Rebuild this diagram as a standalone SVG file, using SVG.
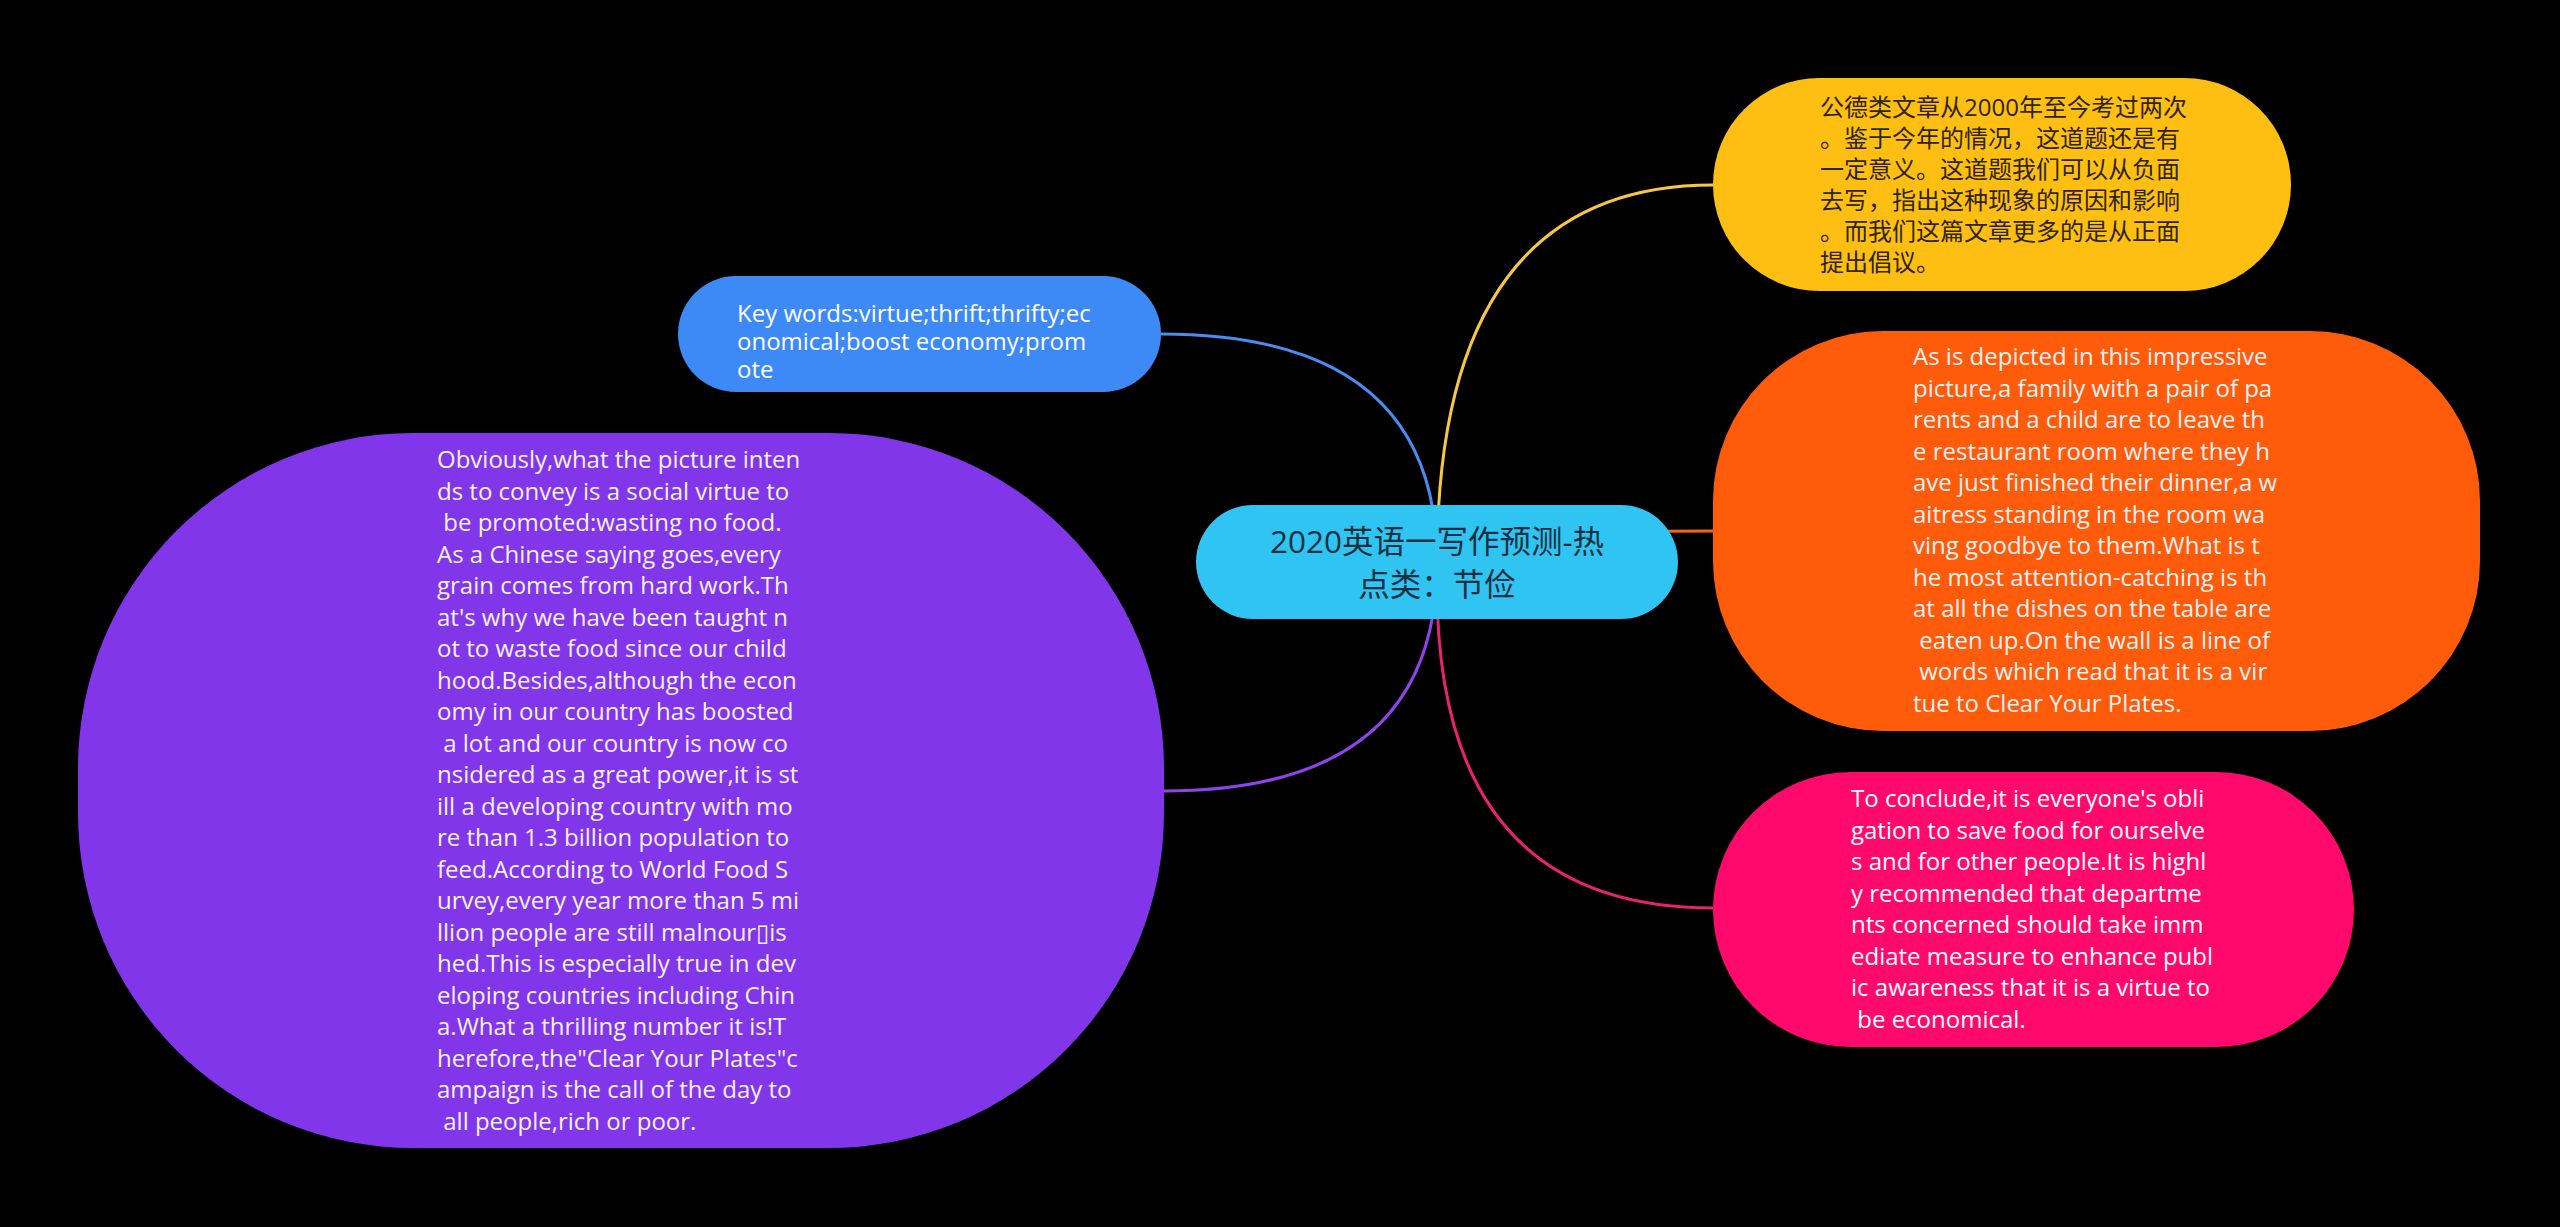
<svg xmlns="http://www.w3.org/2000/svg" width="2560" height="1227" viewBox="0 0 2560 1227">
<style>
.t{font-family:"Open Sans","Noto Sans CJK SC",sans-serif;font-size:24px;white-space:pre}
.w{fill:#F4F1F4}
.conn path{fill:none;stroke-width:3}
</style>
<rect x="0" y="0" width="2560" height="1227" fill="#000000"/>
<g id="connectors" class="conn">
<path d="M1437,562 Q1437,185 1713,185" stroke="#F6C646"/>
<path d="M1437,562 Q1437,334 1161,334" stroke="#4A8CF2"/>
<path d="M1437,562 Q1437,531 1713,531" stroke="#F0641F"/>
<path d="M1437,585 Q1437,908 1713,908" stroke="#E5236E"/>
<path d="M1437,562 Q1437,791 1164,791" stroke="#8E44E8"/>
</g>
<g id="root">
<rect x="1196" y="505" width="482" height="114" rx="57" fill="#30C4F3"/>
<text class="t" x="1437" y="553" text-anchor="middle" style="font-size:31.5px" fill="#15303F">2020英语一写作预测-热</text>
<text class="t" x="1437" y="596" text-anchor="middle" style="font-size:31.5px" fill="#15303F">点类：节俭</text>
</g>
<g id="node-gongde">
<rect x="1713" y="78" width="578" height="213" rx="106.5" fill="#FFBF12"/>
<text class="t" fill="#2E2408">
<tspan x="1820" y="116">公德类文章从2000年至今考过两次</tspan>
<tspan x="1820" y="147">。鉴于今年的情况，这道题还是有</tspan>
<tspan x="1820" y="178">一定意义。这道题我们可以从负面</tspan>
<tspan x="1820" y="209">去写，指出这种现象的原因和影响</tspan>
<tspan x="1820" y="240">。而我们这篇文章更多的是从正面</tspan>
<tspan x="1820" y="271">提出倡议。</tspan>
</text>
</g>
<g id="node-keywords">
<rect x="678" y="276" width="483" height="116" rx="58" fill="#3D8AF7"/>
<text class="t" fill="#FFFFFF">
<tspan x="737" y="322">Key words:virtue;thrift;thrifty;ec</tspan>
<tspan x="737" y="350">onomical;boost economy;prom</tspan>
<tspan x="737" y="378">ote</tspan>
</text>
</g>
<g id="node-depicted">
<rect x="1713" y="331" width="767" height="400" rx="170" fill="#FE5B0B"/>
<text class="t w">
<tspan x="1913" y="365">As is depicted in this impressive</tspan>
<tspan x="1913" y="396.5">picture,a family with a pair of pa</tspan>
<tspan x="1913" y="428">rents and a child are to leave th</tspan>
<tspan x="1913" y="459.5">e restaurant room where they h</tspan>
<tspan x="1913" y="491">ave just finished their dinner,a w</tspan>
<tspan x="1913" y="522.5">aitress standing in the room wa</tspan>
<tspan x="1913" y="554">ving goodbye to them.What is t</tspan>
<tspan x="1913" y="585.5">he most attention-catching is th</tspan>
<tspan x="1913" y="617">at all the dishes on the table are</tspan>
<tspan x="1913" y="648.5"> eaten up.On the wall is a line of</tspan>
<tspan x="1913" y="680"> words which read that it is a vir</tspan>
<tspan x="1913" y="711.5">tue to Clear Your Plates.</tspan>
</text>
</g>
<g id="node-conclude">
<rect x="1713" y="772" width="641" height="275" rx="137.5" fill="#FF0A6C"/>
<text class="t" fill="#FFFFFF">
<tspan x="1851" y="807">To conclude,it is everyone's obli</tspan>
<tspan x="1851" y="838.5">gation to save food for ourselve</tspan>
<tspan x="1851" y="870">s and for other people.It is highl</tspan>
<tspan x="1851" y="901.5">y recommended that departme</tspan>
<tspan x="1851" y="933">nts concerned should take imm</tspan>
<tspan x="1851" y="964.5">ediate measure to enhance publ</tspan>
<tspan x="1851" y="996">ic awareness that it is a virtue to</tspan>
<tspan x="1851" y="1027.5"> be economical.</tspan>
</text>
</g>
<g id="node-obviously">
<rect x="78" y="433" width="1086" height="715" rx="335" fill="#8236E9"/>
<text class="t w">
<tspan x="437" y="468">Obviously,what the picture inten</tspan>
<tspan x="437" y="499.5">ds to convey is a social virtue to</tspan>
<tspan x="437" y="531"> be promoted:wasting no food.</tspan>
<tspan x="437" y="562.5">As a Chinese saying goes,every</tspan>
<tspan x="437" y="594">grain comes from hard work.Th</tspan>
<tspan x="437" y="625.5">at's why we have been taught n</tspan>
<tspan x="437" y="657">ot to waste food since our child</tspan>
<tspan x="437" y="688.5">hood.Besides,although the econ</tspan>
<tspan x="437" y="720">omy in our country has boosted</tspan>
<tspan x="437" y="751.5"> a lot and our country is now co</tspan>
<tspan x="437" y="783">nsidered as a great power,it is st</tspan>
<tspan x="437" y="814.5">ill a developing country with mo</tspan>
<tspan x="437" y="846">re than 1.3 billion population to</tspan>
<tspan x="437" y="877.5">feed.According to World Food S</tspan>
<tspan x="437" y="909">urvey,every year more than 5 mi</tspan>
<tspan x="437" y="940.5">llion people are still malnour▯is</tspan>
<tspan x="437" y="972">hed.This is especially true in dev</tspan>
<tspan x="437" y="1003.5">eloping countries including Chin</tspan>
<tspan x="437" y="1035">a.What a thrilling number it is!T</tspan>
<tspan x="437" y="1066.5">herefore,the"Clear Your Plates"c</tspan>
<tspan x="437" y="1098">ampaign is the call of the day to</tspan>
<tspan x="437" y="1129.5"> all people,rich or poor.</tspan>
</text>
</g>
</svg>
